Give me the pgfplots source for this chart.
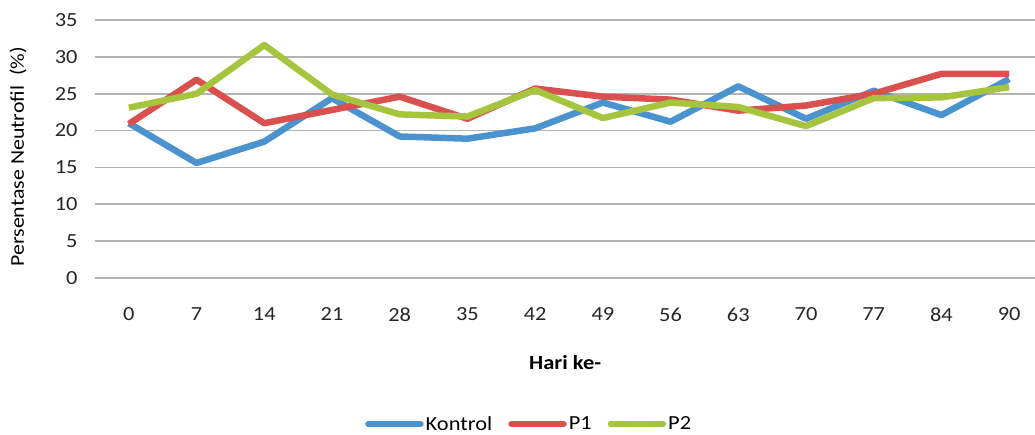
\documentclass[border=0pt]{standalone}
\usepackage{fontspec}
\setmainfont{Carlito}[FakeStretch=1.12]
\usepackage{pgfplots}
\pgfplotsset{compat=1.18}
\definecolor{cK}{HTML}{4A93CF}
\definecolor{cP1}{HTML}{D9514E}
\definecolor{cP2}{HTML}{A6C43E}
\definecolor{gridc}{HTML}{B4B4B4}
\begin{document}
\begin{tikzpicture}
\useasboundingbox (-95pt,-157pt) rectangle (940pt,278pt);
\begin{axis}[
  at={(0pt,0pt)}, anchor=south west,
  scale only axis, width=948pt, height=258pt,
  xmin=-0.5, xmax=13.5, ymin=0, ymax=35,
  xtick={0,...,13},
  xticklabels={0,7,14,21,28,35,42,49,56,63,70,77,84,90},
  ytick={0,5,...,35},
  axis line style={draw=none},
  tick style={draw=none},
  ymajorgrids, grid style={gridc, line width=1.6pt},
  /pgf/number format/assume math mode=true,
  tick label style={font=\fontsize{20}{24}\selectfont, text=black!85},
  xticklabel style={yshift=-26pt},
  yticklabel style={xshift=-14pt},
  xlabel={\textbf{Hari ke-}},
  xlabel style={at={(axis description cs:0.496,-0.326)}, anchor=center, font=\fontsize{20}{24}\selectfont},
  ylabel={Persentase Neutrofil\ \ (\%)},
  ylabel style={at={(axis description cs:-0.081,0.47)}, anchor=center, font=\fontsize{19.5}{24}\selectfont},
  legend columns=3,
  legend style={at={(axis description cs:0.458,-0.566)}, anchor=center, draw=none, font=\fontsize{20}{24}\selectfont, /tikz/every even column/.append style={column sep=14pt}, inner sep=0pt},
  legend image code/.code={\draw[#1, line cap=round] (0pt,0pt) -- (52pt,0pt);},
  every axis plot/.append style={line width=6.5pt, line join=round},
]
\addplot[cK] coordinates {(0,21.0) (1,15.6) (2,18.5) (3,24.4) (4,19.2) (5,18.9) (6,20.3) (7,23.8) (8,21.2) (9,26.0) (10,21.6) (11,25.4) (12,22.1) (13,27.0)};
\addplot[cP1] coordinates {(0,20.9) (1,26.9) (2,21.0) (3,22.8) (4,24.6) (5,21.6) (6,25.7) (7,24.6) (8,24.2) (9,22.7) (10,23.4) (11,25.0) (12,27.7) (13,27.7)};
\addplot[cP2] coordinates {(0,23.1) (1,25.0) (2,31.6) (3,24.9) (4,22.2) (5,21.9) (6,25.5) (7,21.7) (8,23.8) (9,23.2) (10,20.6) (11,24.4) (12,24.5) (13,25.9)};
\legend{Kontrol,P1,P2}
\end{axis}
\end{tikzpicture}
\end{document}
